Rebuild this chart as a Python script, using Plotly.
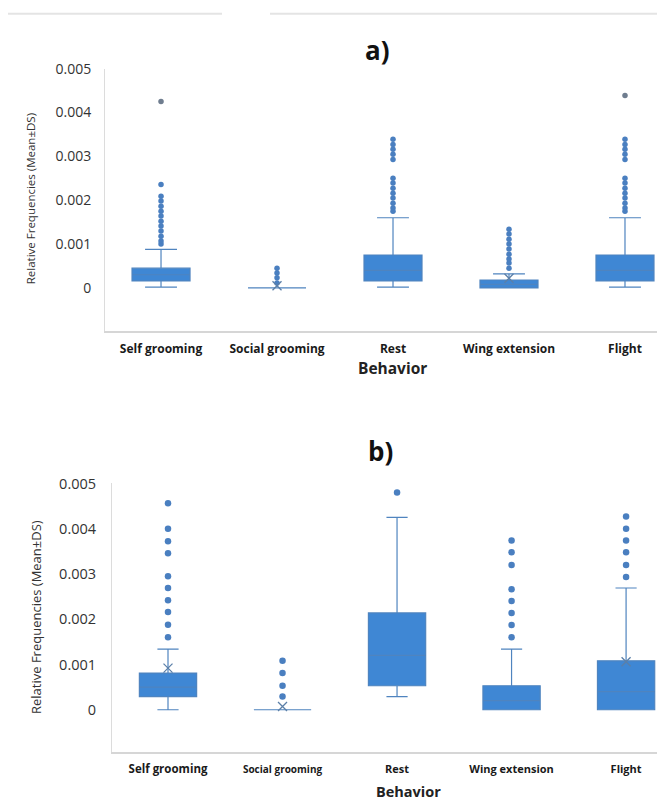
import plotly.graph_objects as go

W, H = 657, 807

categories = ["Self grooming", "Social grooming", "Rest", "Wing extension", "Flight"]

# Panel a) box statistics
a_q1 = [0.00016, 0.0, 0.00016, 0.0, 0.00016]
a_median = [0.0003, 0.0, 0.0004, 0.00008, 0.0004]
a_q3 = [0.00045, 0.0, 0.00075, 0.00018, 0.00075]
a_low = [0.00002, 0.0, 0.00002, 0.0, 0.00002]
a_up = [0.00088, 0.0, 0.0016, 0.00032, 0.0016]
a_mean = [None, 0.00005, None, 0.00022, None]
a_outliers = [
    [0.00100, 0.00107, 0.00118, 0.00130, 0.00141, 0.00152, 0.00164, 0.00175, 0.00186, 0.00198, 0.00209, 0.00236],
    [0.00011, 0.00023, 0.00034, 0.00045],
    [0.00175, 0.00182, 0.00193, 0.00205, 0.00216, 0.00227, 0.00239, 0.00250, 0.00293, 0.00305, 0.00316, 0.00327, 0.00339],
    [0.00045, 0.00057, 0.00066, 0.00077, 0.00089, 0.00100, 0.00111, 0.00123, 0.00134],
    [0.00175, 0.00182, 0.00193, 0.00205, 0.00216, 0.00227, 0.00239, 0.00250, 0.00293, 0.00305, 0.00316, 0.00327, 0.00339],
]
a_far = [[0.00425], [], [], [], [0.00439]]

# Panel b) box statistics
b_q1 = [0.00029, 0.0, 0.00053, 0.0, 0.0]
b_median = [0.0005, 0.0, 0.0012, 0.0002, 0.0004]
b_q3 = [0.00081, 0.0, 0.00214, 0.00053, 0.00108]
b_low = [0.0, 0.0, 0.00029, 0.0, 0.0]
b_up = [0.00134, 0.0, 0.00425, 0.00134, 0.00269]
b_mean = [0.00092, 0.00007, None, None, 0.00106]
b_outliers = [
    [0.0016, 0.00188, 0.00216, 0.00242, 0.00269, 0.00295, 0.00346, 0.00372, 0.0040, 0.00456],
    [0.00029, 0.00053, 0.00081, 0.00108],
    [0.0048],
    [0.0016, 0.00187, 0.00214, 0.0024, 0.00266, 0.0032, 0.00348, 0.00374],
    [0.00293, 0.0032, 0.00348, 0.00374, 0.0040, 0.00427],
]

FILL = "#3f87d4"
LINE = "#4f84bf"
DOT = "#4a7fc0"
GRAY = "#6f7d8f"
MEANC = "#5b7fa8"
FONT = "Open Sans"


def px(x):
    return x / W


def py(y):
    # small calibration for page offset
    y_adj = y - 5.5 + (y - 287) * 0.0095
    return 1 - y_adj / H


fig = go.Figure()


def add_panel(xa, ya, q1, med, q3, lo, up, mean, outs, far, whisk, dotsize):
    xs = list(range(len(categories)))
    fig.add_trace(go.Box(
        x=xs, q1=q1, median=med, q3=q3, lowerfence=lo, upperfence=up,
        width=0.5, whiskerwidth=whisk, fillcolor=FILL,
        line=dict(color=LINE, width=1.2), boxpoints=False,
        xaxis=xa, yaxis=ya, showlegend=False, hoverinfo="skip"))
    ox, oy = [], []
    for i, vals in enumerate(outs):
        ox += [i] * len(vals)
        oy += vals
    fig.add_trace(go.Scatter(x=ox, y=oy, mode="markers",
                             marker=dict(color=DOT, size=dotsize),
                             xaxis=xa, yaxis=ya, showlegend=False, hoverinfo="skip"))
    fx, fy = [], []
    for i, vals in enumerate(far):
        fx += [i] * len(vals)
        fy += vals
    if fx:
        fig.add_trace(go.Scatter(x=fx, y=fy, mode="markers",
                                 marker=dict(color=GRAY, size=dotsize),
                                 xaxis=xa, yaxis=ya, showlegend=False, hoverinfo="skip"))
    mx = [i for i, m in enumerate(mean) if m is not None]
    my = [m for m in mean if m is not None]
    fig.add_trace(go.Scatter(x=mx, y=my, mode="markers",
                             marker=dict(symbol="x-thin", size=9, line=dict(color=MEANC, width=1.3)),
                             xaxis=xa, yaxis=ya, showlegend=False, hoverinfo="skip"))


add_panel("x", "y", a_q1, a_median, a_q3, a_low, a_up, a_mean, a_outliers, a_far, 0.55, 5.5)
add_panel("x2", "y2", b_q1, b_median, b_q3, b_low, b_up, b_mean, b_outliers, [[] for _ in categories], 0.37, 6.5)

a_ticktext = ["<b>%s</b>" % c for c in categories]
b_sizes = [11.5, 10, 11, 11, 11]
b_ticktext = ["<b><span style='font-size:%spx'>%s</span></b>" % (s, c) for s, c in zip(b_sizes, categories)]

tickvals_y = [0, 0.001, 0.002, 0.003, 0.004, 0.005]
ticktext_y = ["0", "0.001", "0.002", "0.003", "0.004", "0.005"]

fig.update_layout(
    width=W, height=H,
    margin=dict(l=0, r=0, t=0, b=0),
    paper_bgcolor="white", plot_bgcolor="white",
    font=dict(family=FONT, color="#333333"),
    xaxis=dict(domain=[px(105), 1], range=[-0.483, 4.276], tickvals=list(range(5)),
               ticktext=a_ticktext, tickfont=dict(size=12, color="#1a1a1a"),
               showline=True, linecolor="#d6d6d6", linewidth=2, showgrid=False,
               zeroline=False, ticks="", ticklabelstandoff=6, anchor="y"),
    yaxis=dict(domain=[py(330), py(67)], range=[-0.00098, 0.005], tickvals=tickvals_y,
               ticktext=ticktext_y, tickfont=dict(size=14, color="#333333"),
               showline=True, linecolor="#dcdcdc", linewidth=1, showgrid=False,
               zeroline=False, ticks="", ticklabelstandoff=10, anchor="x"),
    xaxis2=dict(domain=[px(112), 1], range=[-0.489, 4.27], tickvals=list(range(5)),
                ticktext=b_ticktext, tickfont=dict(size=11, color="#1a1a1a"),
                showline=True, linecolor="#d6d6d6", linewidth=2, showgrid=False,
                zeroline=False, ticks="", ticklabelstandoff=6, anchor="y2"),
    yaxis2=dict(domain=[py(752), py(483)], range=[-0.000925, 0.005], tickvals=tickvals_y,
                ticktext=ticktext_y, tickfont=dict(size=14.5, color="#333333"),
                showline=True, linecolor="#dcdcdc", linewidth=1, showgrid=False,
                zeroline=False, ticks="", ticklabelstandoff=12, anchor="x2"),
)

ann = [
    dict(text="<b>a)</b>", x=px(377), y=py(48), font=dict(size=26, color="#111111")),
    dict(text="<b>b)</b>", x=px(380), y=py(450), font=dict(size=26, color="#111111")),
    dict(text="<b>Behavior</b>", x=px(392), y=py(367), font=dict(size=15.5, color="#222222")),
    dict(text="<b>Behavior</b>", x=px(408), y=py(792), font=dict(size=14.5, color="#222222")),
    dict(text="Relative Frequencies (Mean±DS)", x=px(30), y=py(198), textangle=-90,
         font=dict(size=11.5, color="#333333")),
    dict(text="Relative Frequencies (Mean±DS)", x=px(36), y=py(617), textangle=-90,
         font=dict(size=13, color="#333333")),
]
for a in ann:
    fig.add_annotation(xref="paper", yref="paper", showarrow=False,
                       xanchor="center", yanchor="middle", **a)

fig.add_shape(type="line", xref="paper", yref="paper", x0=px(8), x1=px(222), y0=py(12), y1=py(12),
              line=dict(color="#e4e4e4", width=2))
fig.add_shape(type="line", xref="paper", yref="paper", x0=px(270), x1=1, y0=py(12), y1=py(12),
              line=dict(color="#e4e4e4", width=2))

fig.write_html(
    "out.html",
    config={"displayModeBar": False},
    post_script="document.body.style.margin='0';document.body.style.padding='0';"
                "document.body.style.overflow='hidden';"
                "document.documentElement.style.overflow='hidden';"
                "var gd=document.getElementById('{plot_id}');"
                "gd.style.position='fixed';gd.style.top='0px';gd.style.left='0px';",
)
